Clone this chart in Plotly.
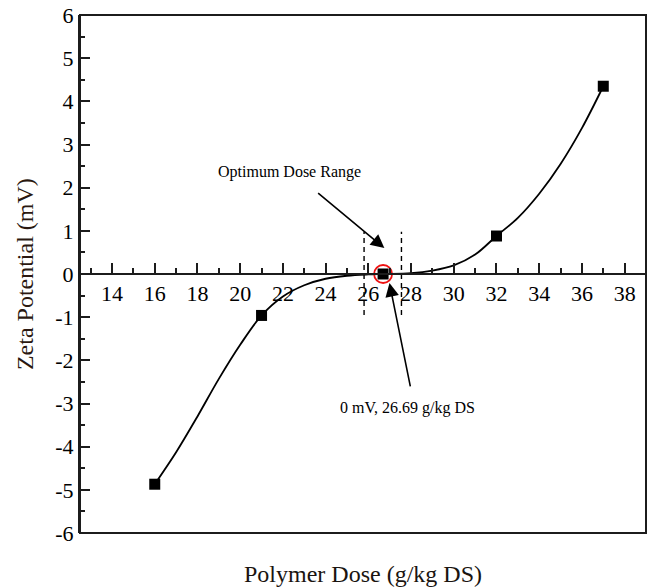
import plotly.graph_objects as go

# Measured data points
dose_points = [16, 21, 26.69, 32, 37]
zeta_points = [-4.87, -0.96, 0.0, 0.88, 4.35]

# Fitted curve
curve_dose = [16, 17, 18, 19, 20, 21, 22, 23, 24, 25, 26, 26.69,
              28, 29, 30, 31, 32, 33, 34, 35, 36, 37]
curve_zeta = [-4.87, -4.13, -3.3, -2.43, -1.64, -0.96, -0.52, -0.26, -0.11, -0.04, -0.01, 0.0,
              0.02, 0.08, 0.2, 0.45, 0.88, 1.3, 1.86, 2.55, 3.38, 4.35]

# Optimum dose range (dashed bounds) and zero point
optimum_range = [25.8, 27.55]
range_zeta = [-0.95, 0.98]
zero_point = (26.69, 0.0)

x_ticks = list(range(14, 39, 2))
y_ticks = list(range(-6, 7))
y_labels = [str(v) for v in y_ticks]

FONT = "Liberation Serif"
INK = "#1c1c1c"

fig = go.Figure()

fig.add_trace(go.Scatter(x=curve_dose, y=curve_zeta, mode="lines",
                         line=dict(color="black", width=1.8, shape="spline", smoothing=1.0),
                         hoverinfo="skip", showlegend=False))

for xv in optimum_range:
    fig.add_trace(go.Scatter(x=[xv, xv], y=range_zeta, mode="lines",
                             line=dict(color="black", width=1.4, dash="5px,4px"),
                             showlegend=False, hoverinfo="skip"))

fig.add_trace(go.Scatter(x=dose_points, y=zeta_points, mode="markers",
                         marker=dict(symbol="square", size=11, color="black"),
                         showlegend=False))

fig.add_trace(go.Scatter(x=[zero_point[0]], y=[zero_point[1]], mode="markers",
                         marker=dict(symbol="circle-open", size=18, color="#ee1111",
                                     line=dict(color="#ee1111", width=1.8)),
                         showlegend=False))

fig.update_layout(
    width=650, height=588,
    margin=dict(l=80, r=4, t=15, b=55),
    paper_bgcolor="white", plot_bgcolor="white",
    font=dict(family=FONT, color="black"),
    xaxis=dict(range=[12.5, 39], anchor="free", position=0.5,
               showline=True, linecolor=INK, linewidth=2,
               showgrid=False, zeroline=False,
               tickmode="array", tickvals=x_ticks,
               ticks="inside", ticklen=10, tickwidth=1.5, tickcolor=INK,
               tickfont=dict(family=FONT, size=22, color="black"),
               minor=dict(tickmode="linear", tick0=13, dtick=2,
                          ticks="inside", ticklen=5, tickwidth=1.5, tickcolor=INK)),
    yaxis=dict(range=[-6, 6], showline=True, linecolor=INK, linewidth=2,
               showgrid=False, zeroline=False,
               tickmode="array", tickvals=y_ticks, ticktext=y_labels,
               ticks="inside", ticklen=10, tickwidth=1.5, tickcolor=INK,
               tickfont=dict(family=FONT, size=22, color="black"),
               minor=dict(tickmode="linear", tick0=0.5, dtick=1,
                          ticks="inside", ticklen=5, tickwidth=1.5, tickcolor=INK)),
)

# Plot frame
fig.add_shape(type="rect", xref="paper", yref="paper", x0=0, x1=1, y0=0, y1=1,
              line=dict(color=INK, width=2), fillcolor="rgba(0,0,0,0)", layer="above")

# Axis titles
fig.add_annotation(text="Polymer Dose (g/kg DS)", xref="paper", yref="paper",
                   x=0.5, y=-0.08, xanchor="center", yanchor="middle", showarrow=False,
                   font=dict(family=FONT, size=24, color="#1a1410"))
fig.add_annotation(text="Zeta Potential (mV)", xref="paper", yref="paper",
                   x=-0.097, y=0.5, xanchor="center", yanchor="middle", textangle=-90,
                   showarrow=False, font=dict(family=FONT, size=24, color="#2a1810"))

# Labels with arrows
fig.add_annotation(text="Optimum Dose Range", x=22.32, y=2.36, showarrow=False,
                   font=dict(family=FONT, size=16, color="black"))
fig.add_annotation(text="", x=26.75, y=0.6, ax=23.58, ay=1.9, axref="x", ayref="y",
                   showarrow=True, arrowhead=2, arrowsize=1.7, arrowwidth=1.6,
                   arrowcolor="black", standoff=0, startstandoff=0)
fig.add_annotation(text="0 mV, 26.69 g/kg DS", x=27.84, y=-3.1, showarrow=False,
                   font=dict(family=FONT, size=16, color="black"))
fig.add_annotation(text="", x=26.99, y=-0.21, ax=27.98, ay=-2.64, axref="x", ayref="y",
                   showarrow=True, arrowhead=2, arrowsize=1.7, arrowwidth=1.6,
                   arrowcolor="black", standoff=0, startstandoff=0)

fig.write_html("out.html")
